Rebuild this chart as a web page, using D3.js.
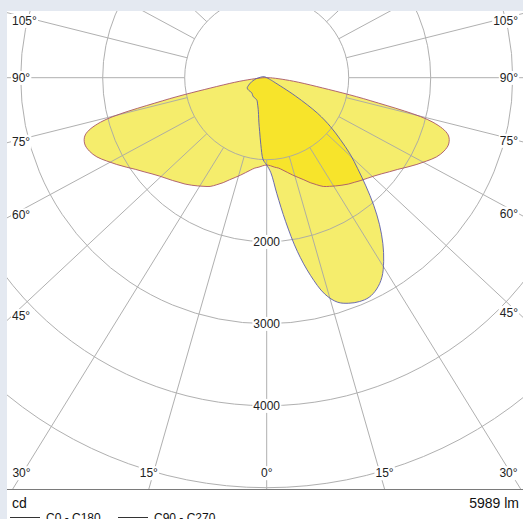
<!DOCTYPE html>
<html>
<head>
<meta charset="utf-8">
<script src="https://cdn.jsdelivr.net/npm/d3@7.9.0/dist/d3.min.js"></script>
<style>
  html, body { margin: 0; padding: 0; background: #e4e9f1; overflow: hidden; }
  svg { display: block; font-family: "Liberation Sans", Arial, sans-serif; }
</style>
</head>
<body>
<svg id="chart" width="523" height="519"></svg>
<script>
// gamma angles in degrees, measured from nadir
const gammas = [0, 2.5, 5, 7.5, 10, 12.5, 15, 17.5, 20, 22.5, 25, 27.5, 30, 32.5, 35, 37.5,
                40, 42.5, 45, 47.5, 50, 52.5, 55, 57.5, 60, 62.5, 65, 67.5, 70, 72.5, 75, 77.5,
                80, 82.5, 85, 87.5, 90, 100, 110, 120, 130, 140, 150, 160, 170, 180];

// luminous intensity (cd), C0 - C180 plane (symmetric)
const c0 = [1065, 1075, 1095, 1112, 1145, 1185, 1230, 1275, 1325, 1385, 1440, 1495, 1530, 1565,
            1600, 1635, 1665, 1700, 1735, 1775, 1825, 1885, 1950, 2030, 2115, 2200, 2285, 2340,
            2362, 2320, 2100, 1300, 620, 330, 150, 70, 30, 0, 0, 0, 0, 0, 0, 0, 0, 0];

// C90 half-plane (right)
const c90 = [1065, 1160, 1420, 1770, 2150, 2470, 2730, 2870, 2927, 2955, 2955, 2905, 2810, 2655,
             2470, 2260, 2030, 1790, 1570, 1380, 1170, 980, 760, 420, 100, 40, 15, 0,
             0, 0, 0, 0, 0, 0, 0, 0, 0, 0, 0, 0, 0, 0, 0, 0, 0, 0];

// C270 half-plane (left)
const c270 = [1065, 1000, 820, 660, 550, 460, 400, 360, 330, 305, 295, 290, 287, 285,
              284, 278, 270, 263, 259, 260, 262, 265, 268, 270, 271, 268, 255, 238,
              222, 205, 190, 172, 155, 142, 125, 110, 95, 60, 35, 15, 0, 0, 0, 0, 0, 0];

const rings = [1000, 2000, 3000, 4000, 5000, 6000];
const ringLabels = [2000, 3000, 4000];
const spokeAngles = [0, 15, 30, 45, 60, 75, 90, 105, 120, 135, 150, 165, 180];
const sideLabels = [45, 60, 75, 90, 105];
const bottomLabels = [0, 15, 30];
const flux = '5989 lm';
const unit = 'cd';
const series = ['C0 - C180', 'C90 - C270'];

const W = 523, H = 519;
const cx = 266.7, cy = 77.7;
const plot = { x0: 7, y0: 11, x1: 523, y1: 489 };
const gridAspect = 0.935;   // the spokes of the original are slightly flattened

const r = d3.scaleLinear().domain([0, 1000]).range([0, 82]);
const rad = d3.scaleLinear().domain([0, 180]).range([0, Math.PI]);

const svg = d3.select('#chart');

svg.append('rect')
    .attr('x', plot.x0).attr('y', plot.y0)
    .attr('width', W - plot.x0).attr('height', H - plot.y0)
    .attr('fill', '#fff');

const defs = svg.append('defs');
defs.append('clipPath').attr('id', 'plot-clip')
  .append('rect')
    .attr('x', plot.x0).attr('y', plot.y0)
    .attr('width', plot.x1 - plot.x0).attr('height', plot.y1 - plot.y0);

/* closed polar outline: right half 0..180, then left half back down */
function polarPoints(right, left) {
  const pts = [];
  gammas.forEach((g, i) => pts.push([Math.PI - rad(g), r(right[i])]));
  for (let i = gammas.length - 2; i > 0; i--) pts.push([Math.PI + rad(gammas[i]), r(left[i])]);
  return pts.filter((p, i, a) => !(i > 0 && p[1] === 0 && a[i - 1][1] === 0));
}

const radial = d3.lineRadial()
  .angle(d => d[0])
  .radius(d => d[1])
  .curve(d3.curveCatmullRomClosed.alpha(0.5));

const pathC0 = radial(polarPoints(c0, c0));
const pathC90 = radial(polarPoints(c90, c270));

defs.append('clipPath').attr('id', 'c0-clip')
  .append('path').attr('d', pathC0);

const plotG = svg.append('g').attr('clip-path', 'url(#plot-clip)');
const polar = plotG.append('g').attr('transform', `translate(${cx},${cy})`);

const light = '#f5ed6c', dark = '#f7e42b';

polar.append('path').attr('d', pathC0).attr('fill', light);
polar.append('path').attr('d', pathC90).attr('fill', light);
polar.append('path').attr('d', pathC90).attr('fill', dark).attr('clip-path', 'url(#c0-clip)');

/* grid */
const grid = polar.append('g')
  .attr('fill', 'none').attr('stroke', '#a8a8a8').attr('stroke-width', 1).attr('opacity', 0.9);

grid.selectAll('circle')
  .data(rings)
  .join('circle')
    .attr('r', d => r(d));

function spokeDir(theta, side) {
  const dx = side * Math.sin(rad(theta)), dy = gridAspect * Math.cos(rad(theta));
  const n = Math.hypot(dx, dy);
  return [dx / n, dy / n];
}

const spokes = [];
spokeAngles.forEach(t => {
  spokes.push(spokeDir(t, 1));
  if (t !== 0 && t !== 180) spokes.push(spokeDir(t, -1));
});

grid.selectAll('line')
  .data(spokes)
  .join('line')
    .attr('x1', d => d[0] * r(1000)).attr('y1', d => d[1] * r(1000))
    .attr('x2', d => d[0] * 900).attr('y2', d => d[1] * 900);

/* outlines */
polar.append('path').attr('d', pathC0)
  .attr('fill', 'none').attr('stroke', '#a8566a').attr('stroke-width', 0.9);
polar.append('path').attr('d', pathC90)
  .attr('fill', 'none').attr('stroke', '#5b5cae').attr('stroke-width', 0.9);

/* labels with white knock-out background */
function label(x, y, text, anchor) {
  const g = svg.append('g');
  const t = g.append('text')
    .attr('x', x).attr('y', y).attr('dy', '0.35em')
    .attr('text-anchor', anchor)
    .attr('font-size', 12).attr('fill', '#222')
    .text(text);
  const bb = t.node().getBBox();
  g.insert('rect', 'text')
    .attr('x', bb.x - 1).attr('y', bb.y).attr('width', bb.width + 2).attr('height', bb.height)
    .attr('fill', '#fff');
  return g;
}

sideLabels.forEach(t => {
  const slope = gridAspect * Math.cos(rad(t)) / Math.sin(rad(t));
  const yl = Math.max(20.7, cy + (cx - 12) * slope);
  const yr = Math.max(20.7, cy + (518 - cx) * slope);
  label(12, yl, `${t}°`, 'start');
  label(518, yr, `${t}°`, 'end');
});

bottomLabels.forEach(t => {
  const off = (plot.y1 - cy) * Math.tan(rad(t)) / gridAspect;
  const xs = t === 0 ? [cx] : [cx - off, cx + off];
  xs.forEach(x => {
    const half = 9.5;
    label(Math.min(518 - half, Math.max(12 + half, x)), 473, `${t}°`, 'middle');
  });
});

ringLabels.forEach(v => label(cx, cy + r(v), `${v}`, 'middle'));

/* frame bottom */
svg.append('line')
  .attr('x1', plot.x0).attr('x2', plot.x1)
  .attr('y1', plot.y1 + 0.5).attr('y2', plot.y1 + 0.5)
  .attr('stroke', '#7a7a7a').attr('stroke-width', 1);

svg.append('text')
  .attr('x', 12).attr('y', 508)
  .attr('font-size', 14).attr('fill', '#111')
  .text(unit);

svg.append('text')
  .attr('x', 519).attr('y', 508)
  .attr('text-anchor', 'end')
  .attr('font-size', 14).attr('fill', '#111')
  .text(flux);

/* legend */
const legendX = [10, 118];
series.forEach((s, i) => {
  svg.append('line')
    .attr('x1', legendX[i]).attr('x2', legendX[i] + 30)
    .attr('y1', 517.5).attr('y2', 517.5)
    .attr('stroke', '#333').attr('stroke-width', 1);
  svg.append('text')
    .attr('x', legendX[i] + 36).attr('y', 522)
    .attr('font-size', 12).attr('fill', '#111')
    .text(s);
});
</script>
</body>
</html>
